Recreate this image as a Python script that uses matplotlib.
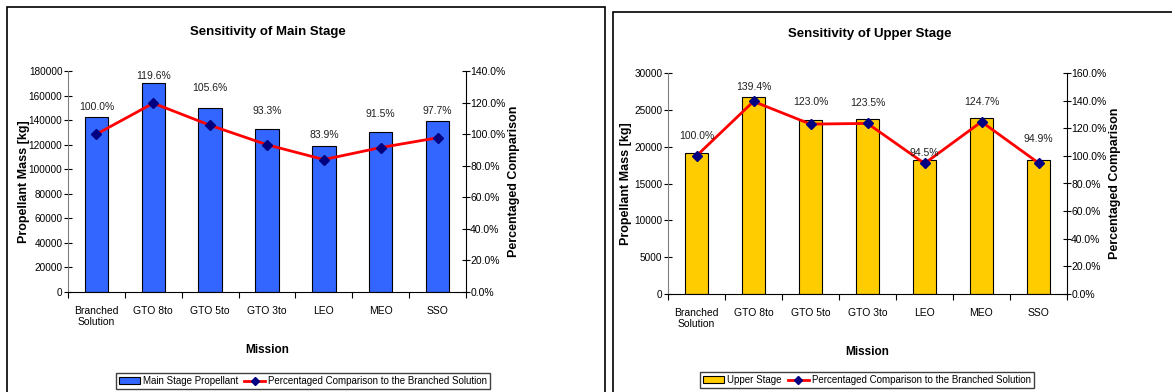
import numpy as np
import matplotlib
matplotlib.use('Agg')
import matplotlib.pyplot as plt
from matplotlib.patches import Rectangle
from matplotlib.lines import Line2D

missions = ['Branched\nSolution', 'GTO 8to', 'GTO 5to', 'GTO 3to', 'LEO', 'MEO', 'SSO']

main_mass = [142200, 170100, 150200, 132700, 119300, 130100, 138900]
main_pct = [100.0, 119.6, 105.6, 93.3, 83.9, 91.5, 97.7]

upper_mass = [19200, 26770, 23620, 23710, 18140, 23940, 18220]
upper_pct = [100.0, 139.4, 123.0, 123.5, 94.5, 124.7, 94.9]

narrow = ['Liberation Sans Narrow', 'Liberation Sans', 'DejaVu Sans']
plt.rcParams['font.family'] = narrow

W, H = 1172, 392
fig = plt.figure(figsize=(W / 100, H / 100), dpi=100)

# outer frames like the spreadsheet chart boxes
fig.patches.append(Rectangle((7 / W, -0.05), 598 / W, 1 - 7 / H + 0.05, transform=fig.transFigure,
                             fill=False, edgecolor='black', linewidth=1.2))
fig.patches.append(Rectangle((613 / W, -0.05), 0.6, 1 - 12 / H + 0.05, transform=fig.transFigure,
                             fill=False, edgecolor='black', linewidth=1.2))


def panel(rect, mass, pct, ymax, ystep, pmax, color, bar_label, title, label_off, title_xy, leg_xy, ylab_px):
    ax = fig.add_axes(rect)
    x = np.arange(len(missions))
    ax.bar(x, mass, width=0.41, color=color, edgecolor='black', linewidth=0.8, zorder=2)
    ax.set_xlim(-0.5, len(missions) - 0.5)
    ax.set_ylim(0, ymax)
    ax.set_yticks(np.arange(0, ymax + 1, ystep))
    ax.set_xticks(x)
    ax.set_xticklabels(missions, fontsize=7.5)
    ax.set_xticks(np.arange(-0.5, len(missions), 1), minor=True)
    ax.tick_params(axis='x', which='major', length=0, pad=10)
    ax.tick_params(axis='x', which='minor', length=4, direction='out', width=0.8)
    ax.tick_params(axis='y', labelsize=7.2, direction='inout', length=6, width=0.8, pad=1)
    for s in ['top', 'right']:
        ax.spines[s].set_visible(False)
    ax.spines['left'].set_color('#808080')
    ax.spines['bottom'].set_color('black')
    ax.set_ylabel('Propellant Mass [kg]', fontsize=9, fontweight='bold', family='Liberation Sans')
    ax.yaxis.set_label_coords(ylab_px / (rect[2] * W), 0.5)
    ax.set_xlabel('Mission', fontsize=8.5, fontweight='bold', labelpad=12)

    ax2 = ax.twinx()
    ax2.plot(x, pct, color='red', linewidth=2, marker='D', markersize=5.5,
             markerfacecolor='#000080', markeredgecolor='#000080', zorder=3)
    ax2.set_ylim(0, pmax)
    ax2.set_yticks(np.arange(0, pmax + 1, 20))
    ax2.set_yticklabels([f'{v:.1f}%' for v in np.arange(0, pmax + 1, 20)])
    ax2.tick_params(axis='y', labelsize=7.5, direction='inout', length=6, width=0.8, pad=0)
    for s in ['top', 'left', 'bottom']:
        ax2.spines[s].set_visible(False)
    ax2.set_ylabel('Percentaged Comparison', fontsize=9, fontweight='bold', family='Liberation Sans', labelpad=2)
    for xi, p, off in zip(x, pct, label_off):
        ax2.annotate(f'{p:.1f}%', (xi, p), xytext=(0, off), textcoords='offset pixels',
                     ha='center', va='center', fontsize=7.5, color='#202020')

    fig.text(title_xy[0] / W, 1 - title_xy[1] / H, title, ha='center', va='center',
             fontsize=9.5, fontweight='bold')

    handles = [Rectangle((0, 0), 1, 1, facecolor=color, edgecolor='black', linewidth=0.8),
               Line2D([], [], color='red', linewidth=2, marker='D', markersize=4,
                      markerfacecolor='#000080', markeredgecolor='#000080')]
    fig.legend(handles, [bar_label, 'Percentaged Comparison to the Branched Solution'],
               loc='center', bbox_to_anchor=(leg_xy[0] / W, 1 - leg_xy[1] / H), ncol=2,
               fontsize=7, frameon=True, fancybox=False, edgecolor='#404040', framealpha=1,
               handlelength=2.2, handletextpad=0.3, columnspacing=0.6, borderpad=0.3)
    return ax


panel([68 / W, 1 - 292 / H, 398 / W, 221 / H], main_mass, main_pct, 180000, 20000, 140,
      '#3366FF', 'Main Stage Propellant', 'Sensitivity of Main Stage',
      [27, 27, 37, 34, 25, 34, 27], (268, 32), (303, 381), -38)
panel([668 / W, 1 - 294 / H, 399 / W, 221 / H], upper_mass, upper_pct, 30000, 5000, 160,
      '#FFCC00', 'Upper Stage', 'Sensitivity of Upper Stage',
      [20, 14, 22, 20, 10, 20, 24], (870, 34), (867, 380), -36)

fig.savefig('out.png', dpi=100)
